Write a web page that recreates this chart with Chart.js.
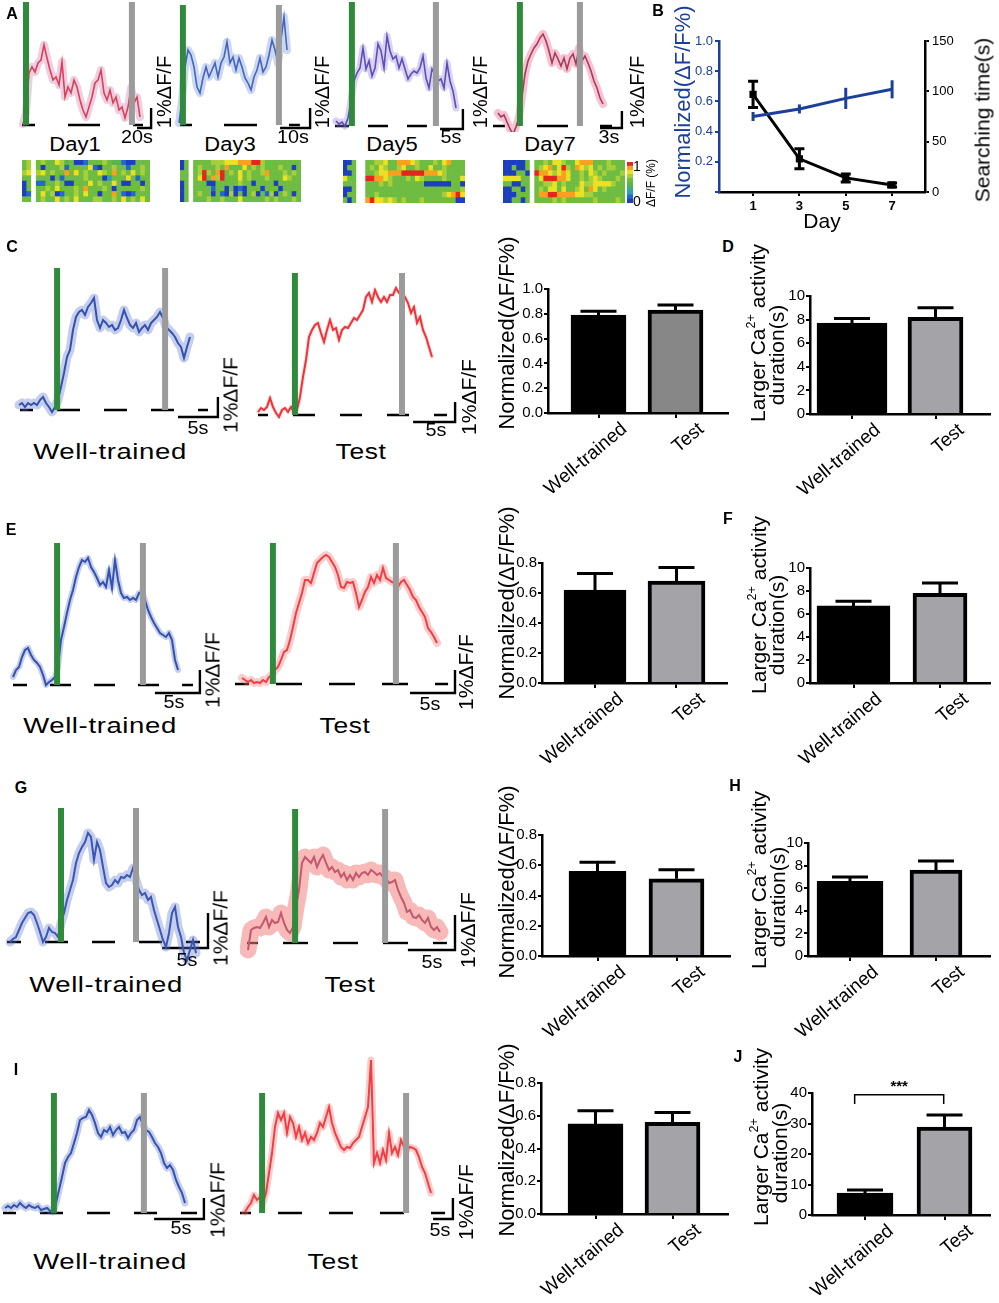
<!DOCTYPE html>
<html>
<head>
<meta charset="utf-8">
<title>Calcium activity figure</title>
<script src="https://cdn.jsdelivr.net/npm/chart.js@4.4.1/dist/chart.umd.min.js"></script>
<style>
  body { margin:0; background:#fff; }
  #fig { position:relative; width:999px; height:1303px; overflow:hidden; background:#fff;
         font-family:"Liberation Sans", Arial, sans-serif; }
  #fig canvas { position:absolute; }
  .t { position:absolute; white-space:nowrap; line-height:1; color:#000; }
  .t sup { font-size:0.6em; vertical-align:0.75em; line-height:0; }
</style>
</head>
<body>
<div id="fig"></div>
<script>
// ================= TRACES =================
// height above baseline (px of the original figure), one sample every 3 px
const day1 = [1,12,52,58,53,62,65,80,67,55,45,48,40,63,28,38,32,45,38,25,15,8,18,28,42,45,55,32,25,35,22,28,15,18,7,18,37,22,28,8];
const day3 = [2,25,58,75,70,58,38,32,47,58,48,55,62,48,62,68,83,62,68,55,67,58,47,42,35,48,55,67,53,58,70,85,75,62,85,108,75];
const day5 = [5,2,4,0,8,25,45,53,58,78,57,65,50,58,82,75,58,90,75,67,70,58,67,57,47,52,55,53,58,70,48,38,57,52,45,47,38,63,45,35,18];
const day7 = [13,9,11,4,-3,-8,-1,9,29,52,65,72,78,82,88,92,85,75,63,73,67,60,68,57,68,72,62,78,65,70,63,55,45,38,28,22];

const cWT   = [5,7,3,7,5,7,5,10,13,7,3,-2,3,10,23,37,53,60,80,93,98,100,95,103,107,112,90,82,90,87,83,85,80,82,90,100,92,85,82,87,78,82,85,80,87,90,93,98,92,83,80,77,73,67,63,52,63,73];
const cTest = [3,7,5,8,17,8,2,-2,5,7,3,8,3,5,18,38,55,78,85,90,92,82,73,85,95,85,87,75,85,88,87,92,97,95,100,105,118,122,113,125,118,113,118,113,120,120,127,122,122,118,112,102,108,92,98,85,78,68,58];
const eWT   = [8,15,18,28,35,37,30,25,22,18,10,0,3,5,8,18,45,58,72,85,95,108,118,125,123,127,118,113,107,100,103,98,115,97,125,105,92,87,88,85,87,85,92,93,85,75,68,62,57,52,50,48,52,45,25,15];
const eTest = [6,4,2,4,1,2,1,4,2,7,9,14,17,24,32,34,44,57,71,81,91,104,104,101,111,121,124,127,129,127,122,117,109,97,96,102,101,102,91,77,84,92,97,107,101,109,104,116,106,104,102,101,97,102,104,99,94,87,84,77,72,67,56,52,47,41];
const gWT   = [0,3,5,12,19,24,29,30,27,19,10,0,5,14,10,9,5,19,29,42,52,62,79,89,95,100,109,105,82,100,92,75,59,55,57,62,59,65,64,67,65,74,62,52,47,49,42,45,32,22,12,2,-5,9,29,35,15,5,-11,-18,-8,2,-11];
const gTest = [-7,13,15,16,15,20,26,16,23,20,21,30,20,13,10,16,36,53,80,86,83,80,86,76,83,88,80,73,76,71,73,66,70,63,68,63,70,66,70,71,68,73,71,68,70,66,65,60,61,63,53,46,40,31,33,26,25,28,23,20,25,16,13,16,11];
const iWT   = [5,7,5,8,6,10,7,5,8,6,5,7,3,4,5,2,1,10,23,36,50,56,60,70,80,93,95,96,103,98,90,80,76,83,81,86,78,83,86,80,81,75,80,83,93,96,88,83,81,76,70,66,60,50,45,48,43,33,26,20,10];
const iTest = [1,6,10,18,13,16,10,20,40,60,86,100,93,100,80,96,90,76,86,73,80,70,76,73,80,90,86,96,106,90,80,73,66,63,66,65,70,73,76,86,96,106,153,50,60,50,63,53,80,60,66,58,73,66,63,66,65,63,56,46,40,30,20];

// start (sample index) of the green cue bar and of the gray bar
const cueDay1 = [0, 35.3];
const cueDay3 = [0.3, 32.3];
const cueDay5 = [4.3, 32.3];
const cueDay7 = [6.3, 26.3];
const cueCWT = [11.7, 47.7];
const cueCTest = [11.3, 47];
const cueEWT = [13.7, 42.3];
const cueETest = [9.3, 50.3];
const cueGWT = [16, 41];
const cueGTest = [14.7, 44.7];
const cueIWT = [15.3, 45.3];
const cueITest = [4.7, 52.7];

// ================= BAR PANELS =================
const groups = ["Well-trained", "Test"];
const normC = [0.79, 0.83], normCErr = [0.03, 0.04];
const durD  = [7.7, 8.2],   durDErr  = [0.4, 0.8];
const normE = [0.62, 0.68], normEErr = [0.11, 0.09];
const durF  = [6.7, 7.8],   durFErr  = [0.4, 0.9];
const normG = [0.56, 0.51], normGErr = [0.06, 0.06];
const durH  = [6.6, 7.6],   durHErr  = [0.4, 0.8];
const normI = [0.55, 0.56], normIErr = [0.08, 0.06];
const durJ  = [7.2, 28.8],  durJErr  = [1.0, 4.0];
const sigJ  = [0.87, 1.99];

// ================= PANEL B =================
const days = [1, 3, 5, 7];
const bNorm = [0.50, 0.55, 0.62, 0.68];
const bNormErr = [0.03, 0.03, 0.07, 0.06];
const bSearch = [97, 33, 14, 7];
const bSearchErr = [13, 10, 4, 2];

// ================= HEATMAPS (0 = low ... 9 = high, - = blank) =================
const heatDay1 = [
  "56-565576450015556544100555",
  "56-505556155557105565515565",
  "67-675655857565576585657565",
  "55-555051555565550255575155",
  "05-115565005557565575005505",
  "05-556575556585556505555565",
  "01-575601556575505585101555",
  "55-565575657555665565756575"];
const heatDay3 = [
  "05-555566677788899655555555",
  "05-565556585557565655565505",
  "55-569658956575655685556565",
  "55-579586955575655565557655",
  "05-555005555565505555055555",
  "05-555515505010555055505555",
  "05-565505106050560516056505",
  "05-555655655575555565655565"];
const heatDay5 = [
  "005--5566755888765556578555",
  "055--5657655675565575565555",
  "005--5567788899999888765555",
  "755--9988765556576555565557",
  "555--5556565555555000000550",
  "005--5555555555555555555556",
  "055--5565555555555555567897",
  "505--8977676565556555555500"];
const heatDay7 = [
  "000005-55657765578885556555",
  "005005-56785796587675656655",
  "000550-98876787556576565556",
  "777755-57999887556567655565",
  "550055-55667565557667777655",
  "005505-56577575567587565555",
  "000555-58899888877665555555",
  "005505-55556565555556555565"];
const scaleSteps = ["0","1","2","3","4","5","6","7","8","9"];

// ================= STYLE =================
const FONT = '"Liberation Sans", Arial, sans-serif';
Chart.defaults.font.family = FONT;
Chart.defaults.color = "#000";
const GREEN = "#2f8a3c";
const GRAY = "#9b9b9b";
const BLUE = "#1c3f99";
const JET = {"0":"#1d3fbf","1":"#2468cc","2":"#2c9fc0","3":"#3fae74","4":"#58b548","5":"#6fbc42",
             "6":"#a6cf3a","7":"#ebe124","8":"#f6a11f","9":"#e4261f","-":"#ffffff"};

const fig = document.getElementById("fig");

function box(x, y, w, h) {
  const c = document.createElement("canvas");
  c.width = w; c.height = h;
  c.style.left = x + "px"; c.style.top = y + "px";
  c.style.width = w + "px"; c.style.height = h + "px";
  fig.appendChild(c);
  return c;
}

function put(x, y, html, size, o = {}) {
  const d = document.createElement("div");
  d.className = "t";
  d.innerHTML = html;
  d.style.fontSize = size + "px";
  d.style.left = x + "px";
  d.style.top = y + "px";
  if (o.b) d.style.fontWeight = "bold";
  if (o.c) d.style.color = o.c;
  if (o.ls) d.style.letterSpacing = o.ls + "px";
  d.style.transform = "translate(-50%,-50%)" + (o.r ? " rotate(" + o.r + "deg)" : "") + (o.sx ? " scaleX(" + o.sx + ")" : "");
  fig.appendChild(d);
}

const quiet = {legend: {display: false}, tooltip: {enabled: false}};

// ================= PLUGINS =================
function cueBands(cue, top) {
  return {
    id: "cueBands",
    afterDatasetsDraw(ch) {
      const {ctx, scales: {x, y}} = ch;
      const y0 = y.getPixelForValue(0), y1 = y.getPixelForValue(top);
      cue.forEach((c, k) => {
        const x1 = x.getPixelForValue(c), x2 = x.getPixelForValue(c + 2);
        ctx.fillStyle = k ? GRAY : GREEN;
        ctx.fillRect(x1, y1, x2 - x1, y0 - y1);
      });
    }
  };
}

const errBars = {
  id: "errBars",
  afterDatasetsDraw(ch) {
    const ctx = ch.ctx;
    ch.data.datasets.forEach((ds, di) => {
      if (!ds.err) return;
      const meta = ch.getDatasetMeta(di);
      const y = ch.scales[meta.yAxisID];
      ctx.save();
      ctx.strokeStyle = ds.errColor || "#000";
      ctx.lineWidth = ds.errWidth || 3;
      meta.data.forEach((el, i) => {
        const v = ds.data[i].y, e = ds.err[i];
        const top = y.getPixelForValue(v + e);
        const bot = ds.errUp ? el.y : y.getPixelForValue(v - e);
        const cap = ds.errCap || 0;
        ctx.beginPath();
        ctx.moveTo(el.x, bot); ctx.lineTo(el.x, top);
        if (cap) {
          ctx.moveTo(el.x - cap, top); ctx.lineTo(el.x + cap, top);
          if (!ds.errUp) { ctx.moveTo(el.x - cap, bot); ctx.lineTo(el.x + cap, bot); }
        }
        ctx.stroke();
      });
      ctx.restore();
    });
  }
};

const sigBracket = {
  id: "sigBracket",
  afterDraw(ch) {
    const {ctx, scales: {x, y}} = ch;
    const x1 = x.getPixelForValue(sigJ[0]), x2 = x.getPixelForValue(sigJ[1]);
    const yt = y.getPixelForValue(39.4), yb = y.getPixelForValue(36.4);
    ctx.save();
    ctx.strokeStyle = "#000"; ctx.lineWidth = 1.5;
    ctx.beginPath();
    ctx.moveTo(x1, yb); ctx.lineTo(x1, yt); ctx.lineTo(x2, yt); ctx.lineTo(x2, yb);
    ctx.stroke();
    ctx.fillStyle = "#000";
    ctx.font = "bold 15px " + FONT;
    ctx.textAlign = "center"; ctx.textBaseline = "middle";
    ctx.fillText("***", (x1 + x2) / 2, y.getPixelForValue(42));
    ctx.restore();
  }
};

// ================= TRACE CHART =================
function trace(vals, cue, L, st) {
  const [bx, by, bw, bh] = L.box;
  const pts = vals.map((v, i) => ({x: i, y: v}));
  const ds = [
    {data: pts, borderColor: st.shade, borderWidth: st.sw, pointRadius: 0, borderJoinStyle: "round", borderCapStyle: "round"},
    {data: pts, borderColor: st.line, borderWidth: st.lw || 1.8, pointRadius: 0},
    {data: [{x: L.dash[0], y: 0}, {x: L.dash[1], y: 0}], borderColor: "#000", borderWidth: 2.4,
     borderDash: [L.dash[2], L.dash[3]], borderDashOffset: L.dash[4], pointRadius: 0},
    {data: [{x: L.bar[0], y: L.bar[2]}, {x: L.bar[1], y: L.bar[2]}, {x: L.bar[1], y: L.bar[3]}],
     borderColor: "#000", borderWidth: 2.4, pointRadius: 0}
  ];
  new Chart(box(bx, by, bw, bh), {
    type: "line",
    data: {datasets: ds},
    options: {
      responsive: false, animation: false, events: [],
      layout: {padding: 0},
      plugins: quiet,
      scales: {
        x: {type: "linear", display: false, min: (bx - L.x0) / 3, max: (bx + bw - L.x0) / 3},
        y: {display: false, min: L.base - (by + bh), max: L.base - by}
      }
    },
    plugins: [cueBands(cue, L.top)]
  });
}

// ================= BAR CHART =================
function bars(L, vals, errs, testFill, yMax, step, fmt, extra) {
  const unit = L.c[1] - L.c[0];
  const xmin = 1 - (L.c[0] - L.ax[0]) / unit;
  const xmax = 2 + (L.ax[1] - L.c[1]) / unit;
  new Chart(box(...L.box), {
    type: "bar",
    data: {
      datasets: vals.map((v, i) => ({
        data: [{x: i + 1, y: v}],
        backgroundColor: i ? testFill : "#000",
        borderColor: "#000", borderWidth: 4,
        barThickness: L.bw[i], grouped: false,
        err: [errs[i]], errUp: true, errCap: 18
      }))
    },
    options: {
      responsive: false, animation: false, events: [],
      layout: {padding: {top: L.pad[0], right: L.pad[1], left: 0, bottom: 0}},
      plugins: quiet,
      scales: {
        x: {
          type: "linear", min: xmin, max: xmax, offset: false,
          afterBuildTicks: s => { s.ticks = [{value: 1}, {value: 2}]; },
          ticks: {callback: v => groups[v - 1], color: "#000", font: {size: 19},
                  minRotation: 40, maxRotation: 40, padding: 0, autoSkip: false,
                  labelOffset: c => (c.index ? 14 : 26)},
          grid: {offset: false, drawOnChartArea: false, color: "#000", lineWidth: 2, tickLength: 5},
          border: {color: "#000", width: 2.5},
          afterFit: s => { s.height = L.xh; }
        },
        y: {
          min: 0, max: yMax,
          ticks: {stepSize: step, color: "#000", font: {size: 15}, padding: 1, callback: fmt},
          grid: {drawOnChartArea: false, color: "#000", lineWidth: 2, tickLength: 4},
          border: {color: "#000", width: 2.5},
          afterFit: s => { s.width = L.yw; }
        }
      }
    },
    plugins: [errBars].concat(extra || [])
  });
}

// ================= HEATMAP =================
function heat(x, y, w, h, rows) {
  const n = Math.max(...rows.map(r => r.length));
  const cols = [...Array(n).keys()];
  const ds = rows.slice().reverse().map(r => ({
    data: cols.map(() => 1),
    backgroundColor: cols.map(i => JET[r[i]] || "#fff"),
    borderWidth: 0, barPercentage: 1, categoryPercentage: 1
  }));
  new Chart(box(x, y, w, h), {
    type: "bar",
    data: {labels: cols, datasets: ds},
    options: {
      responsive: false, animation: false, events: [],
      layout: {padding: 0}, plugins: quiet,
      scales: {x: {stacked: true, display: false}, y: {stacked: true, display: false, min: 0, max: rows.length}}
    }
  });
}

// ================= PANEL A =================
trace(day1, cueDay1, {box:[18,0,145,132], x0:23, base:125, top:123, dash:[-0.33,40,32,33,19], bar:[38,42.7,-3,17]},
      {line:"#e3242b", shade:"rgba(205,115,170,0.35)", sw:8, lw:1.6});
trace(day3, cueDay3, {box:[174,0,140,132], x0:179, base:125, top:120, dash:[0.33,40.3,33,32,21], bar:[33.7,43.7,-3,17]},
      {line:"#2b50b2", shade:"rgba(110,140,215,0.35)", sw:8, lw:1.6});
trace(day5, cueDay5, {box:[330,0,140,132], x0:336, base:126, top:124, dash:[-0.33,30.3,20,19,6], bar:[34.7,42.3,-3,17]},
      {line:"#3a3aa0", shade:"rgba(150,120,220,0.35)", sw:7, lw:1.6});
trace(day7, cueDay7, {box:[490,0,138,132], x0:498, base:126, top:124, dash:[-1.67,38,31,32,19], bar:[34,41.3,-2,15]},
      {line:"#6a1a30", shade:"rgba(240,110,150,0.42)", sw:8, lw:1.6});

heat(22, 160, 128, 42, heatDay1);
heat(180, 160, 121, 42, heatDay3);
heat(343, 160, 122, 43, heatDay5);
heat(503, 160, 122, 43, heatDay7);

// colour scale of the heatmaps
new Chart(box(627, 162, 6, 41), {
  type: "bar",
  data: {labels: [""], datasets: scaleSteps.map(k => ({data: [1], backgroundColor: JET[k], borderWidth: 0, barPercentage: 1, categoryPercentage: 1}))},
  options: {responsive: false, animation: false, events: [], layout: {padding: 0}, plugins: quiet,
            scales: {x: {stacked: true, display: false}, y: {stacked: true, display: false, min: 0, max: scaleSteps.length}}}
});

// ================= PANEL B =================
new Chart(box(645, 0, 354, 235), {
  type: "line",
  data: {datasets: [
    {data: days.map((d, i) => ({x: d, y: bNorm[i]})), yAxisID: "yL", borderColor: BLUE, borderWidth: 3, pointRadius: 0,
     err: bNormErr, errColor: BLUE, errWidth: 3, errCap: 0},
    {data: days.map((d, i) => ({x: d, y: bSearch[i]})), yAxisID: "yR", borderColor: "#000", borderWidth: 3,
     pointRadius: 3, pointStyle: "rect", pointBackgroundColor: "#000", pointBorderColor: "#000",
     err: bSearchErr, errColor: "#000", errWidth: 3, errCap: 5}
  ]},
  options: {
    responsive: false, animation: false, events: [],
    layout: {padding: {top: 41, left: 0, right: 0, bottom: 0}},
    plugins: quiet,
    scales: {
      x: {type: "linear", min: -0.47, max: 8.42,
          afterBuildTicks: s => { s.ticks = days.map(v => ({value: v})); },
          ticks: {color: "#000", font: {size: 13, weight: "bold"}, padding: 3},
          grid: {drawOnChartArea: false, color: "#000", lineWidth: 2, tickLength: 4},
          border: {color: "#000", width: 2.5},
          title: {display: true, text: "Day", color: "#000", font: {size: 21}, padding: 0},
          afterFit: s => { s.height = 43; }},
      yL: {position: "left", min: 0, max: 1,
           ticks: {stepSize: 0.2, color: BLUE, font: {size: 13}, padding: 2, callback: v => (v === 0 ? "" : v.toFixed(1))},
           grid: {drawOnChartArea: false, color: BLUE, lineWidth: 2, tickLength: 4},
           border: {color: BLUE, width: 2.5},
           afterFit: s => { s.width = 74; }},
      yR: {position: "right", min: 0, max: 150,
           ticks: {stepSize: 50, color: "#000", font: {size: 13}, padding: 3},
           grid: {drawOnChartArea: false, color: "#000", lineWidth: 2, tickLength: 4},
           border: {color: "#000", width: 2.5},
           afterFit: s => { s.width = 74; }}
    }
  },
  plugins: [errBars]
});

// ================= PANELS C - J : TRACES =================
const wtLine = "#1d3d9c", wtShade = "rgba(95,120,205,0.36)";
const redLine = "#ec1c24", redShade = "rgba(245,120,120,0.38)";
trace(cWT, cueCWT, {box:[12,262,212,160], x0:19, base:410, top:142, dash:[0.33,63,23,24,10], bar:[53,66.3,-7,13]},
      {line:wtLine, shade:wtShade, sw:9, lw:2});
trace(cTest, cueCTest, {box:[252,268,208,160], x0:258, base:415, top:142, dash:[0,63,22,25,12], bar:[51.7,65.7,-7,13]},
      {line:redLine, shade:"rgba(245,120,120,0.25)", sw:4, lw:2});
trace(eWT, cueEWT, {box:[8,538,198,160], x0:13, base:685, top:142, dash:[0,60,21,23,7], bar:[47.3,62.3,-8,15]},
      {line:wtLine, shade:wtShade, sw:6, lw:2});
trace(eTest, cueETest, {box:[230,538,230,160], x0:242, base:684, top:141, dash:[-2.33,68.7,26,27,12], bar:[56,71,-9,14]},
      {line:redLine, shade:redShade, sw:8, lw:2});
trace(gWT, cueGWT, {box:[2,803,212,165], x0:10, base:942, top:134, dash:[-1,63.3,23,24,9], bar:[50.7,66,-6,29]},
      {line:"#2845a8", shade:wtShade, sw:9, lw:2});
trace(gTest, cueGTest, {box:[240,803,220,165], x0:248, base:943, top:134, dash:[-0.33,66.3,25,25,14], bar:[53.3,69,-7,28]},
      {line:"#8a2a55", shade:"rgba(242,128,128,0.55)", sw:17, lw:2});
trace(iWT, cueIWT, {box:[0,1088,212,140], x0:5, base:1213, top:120, dash:[-0.67,64,23,24,10], bar:[49.7,66.3,-6,15]},
      {line:wtLine, shade:wtShade, sw:7, lw:2});
trace(iTest, cueITest, {box:[236,1050,222,178], x0:245, base:1213, top:120, dash:[-1.67,66.7,24,27,13], bar:[62.7,69.3,-6,15]},
      {line:redLine, shade:redShade, sw:7, lw:2});

// ================= PANELS C - J : BARS =================
const dec1 = v => v.toFixed(1);
const int0 = v => String(Math.round(v));
const grayDark = "#878787", grayLight = "#a4a4a8";
bars({box:[480,279,250,215], pad:[10,2], yw:68, xh:81, ax:[548,728], c:[598.5,675.5], bw:[55,55]}, normC, normCErr, grayDark, 1.0, 0.2, dec1);
bars({box:[720,286,275,215], pad:[10,5], yw:90, xh:87, ax:[810,990], c:[852,935.5], bw:[70,55]}, durD, durDErr, grayLight, 10, 2, int0);
bars({box:[475,553,255,215], pad:[10,3], yw:67, xh:85, ax:[542,727], c:[595,676.5], bw:[62,57]}, normE, normEErr, grayLight, 0.8, 0.2, dec1);
bars({box:[720,558,275,212], pad:[10,5], yw:90, xh:87, ax:[810,990], c:[853.5,940], bw:[73,54]}, durF, durFErr, grayLight, 10, 2, int0);
bars({box:[475,825,258,215], pad:[10,3], yw:67, xh:84, ax:[542,730], c:[597.5,676.5], bw:[57,55]}, normG, normGErr, grayLight, 0.8, 0.2, dec1);
bars({box:[720,833,275,215], pad:[10,5], yw:88, xh:92, ax:[808,990], c:[850,936], bw:[66,52]}, durH, durHErr, grayLight, 10, 2, int0);
bars({box:[475,1073,256,230], pad:[10,3], yw:66, xh:89, ax:[541,728], c:[595.5,672.5], bw:[55,55]}, normI, normIErr, grayLight, 0.8, 0.2, dec1);
bars({box:[720,1060,275,243], pad:[33,5], yw:92, xh:88, ax:[812,990], c:[865,944.5], bw:[56,55]}, durJ, durJErr, grayLight, 40, 10, int0, [sigBracket]);

// ================= TEXT =================
[["A",12,14],["B",658,11],["C",12,247],["D",728,247],["E",11,530],["F",728,519],
 ["G",21,788],["H",735,786],["I",16,1070],["J",738,1057]].forEach(p => put(p[1], p[2], p[0], 16, {b: 1}));

const dF = "1%ΔF/F";
// panel A
put(75, 144, "Day1", 20, {sx: 1.1}); put(230, 144, "Day3", 20, {sx: 1.1});
put(392, 144, "Day5", 20, {sx: 1.1}); put(550, 144, "Day7", 20, {sx: 1.1});
put(137, 137, "20s", 18, {sx: 1.1}); put(293, 137, "10s", 18, {sx: 1.1}); put(451, 137, "5s", 18, {sx: 1.1}); put(609, 137, "3s", 18, {sx: 1.1});
put(164, 92, dF, 20, {r: -90}); put(322, 92, dF, 20, {r: -90});
put(480, 92, dF, 20, {r: -90}); put(637, 92, dF, 20, {r: -90});
put(637, 166, "1", 14); put(637, 201, "0", 14);
put(651, 183, "ΔF/F (%)", 12, {r: -90});

// panel B axis titles
put(683, 102, "Normalized(ΔF/F%)", 22, {r: -90, c: BLUE});
put(982, 120, "Searching time(s)", 21, {r: -90});

// trace labels
const rows = [[452, 428, 395, 110, 361, 198, 436, 230, 468],
              [726, 702, 670, 100, 345, 174, 430, 212, 465],
              [985, 960, 928, 106, 350, 187, 432, 220, 467],
              [1262, 1228, 1200, 110, 333, 181, 440, 217, 465]];
rows.forEach(r => {
  put(r[3], r[0], "Well-trained", 22, {ls: 0.5, sx: 1.25});
  put(r[4], r[0], "Test", 22, {ls: 0.5, sx: 1.2});
  put(r[5], r[1], "5s", 18, {sx: 1.1}); put(r[6], r[1] + 2, "5s", 18, {sx: 1.1});
  put(r[7], r[2], dF, 21, {r: -90}); put(r[8], r[2] + 2, dF, 21, {r: -90});
});

// bar panel axis titles
const norm = "Normalized(ΔF/F%)";
put(507, 333, norm, 22, {r: -90}); put(507, 603, norm, 22, {r: -90});
put(507, 882, norm, 22, {r: -90}); put(507, 1140, norm, 22, {r: -90});
const larger = "Larger Ca<sup>2+</sup> activity";
[[757, 333, 776, 355], [758, 605, 776, 625], [758, 880, 777, 897], [760, 1137, 779, 1153]].forEach(p => {
  put(p[0], p[1], larger, 21, {r: -90});
  put(p[2], p[3], "duration(s)", 21, {r: -90});
});
</script>
</body>
</html>
